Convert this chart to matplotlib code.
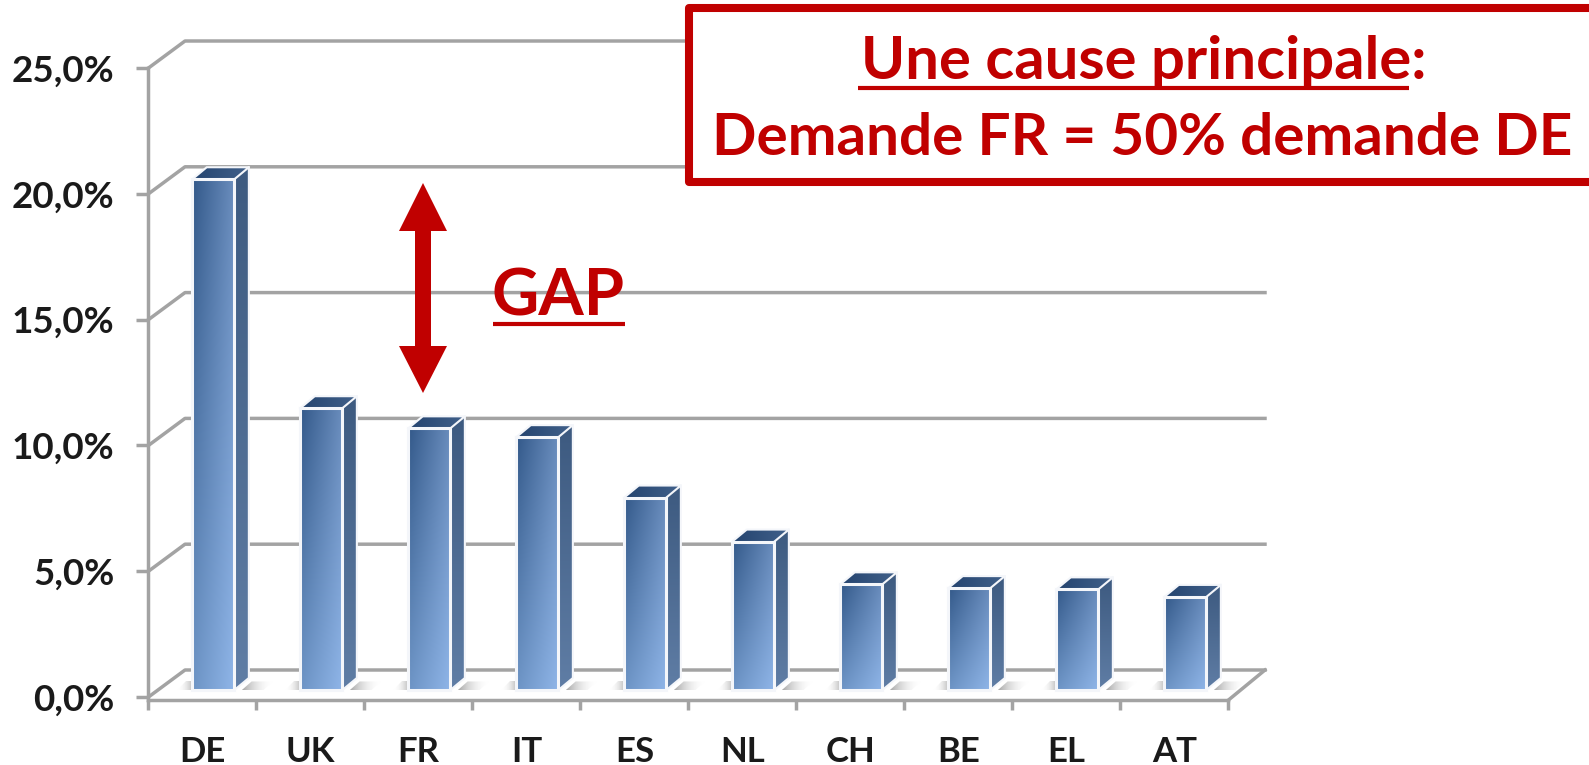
import numpy as np
import matplotlib
matplotlib.use("Agg")
import matplotlib.pyplot as plt
from matplotlib.colors import to_rgba
from matplotlib.patches import Polygon, Rectangle

# Donnees
pays = ["DE", "UK", "FR", "IT", "ES", "NL", "CH", "BE", "EL", "AT"]
parts = [20.3, 11.2, 10.4, 10.05, 7.65, 5.9, 4.2, 4.05, 4.0, 3.7]
graduations = [0, 5, 10, 15, 20, 25]
etiquettes_y = ["0,0%", "5,0%", "10,0%", "15,0%", "20,0%", "25,0%"]

LARG, HAUT = 1589, 765
X0, KX = 148.5, 108.0   # pixel du 0 et pixels par categorie
Y0, KY = 697.0, 25.16   # pixel du 0% et pixels par point de %
ROUGE = "#C00000"
GRIS = "#A3A3A3"
plt.rcParams["font.family"] = ["Lato", "DejaVu Sans"]


def px(x, y):
    # pixel de l'image -> coordonnees de donnees
    return (x - X0) / KX, (Y0 - y) / KY


def degrade(ax, coins, hg, hd, bg, bd, zorder=3):
    # polygone rempli d'un degrade entre les 4 couleurs de coin
    coins = np.array(coins)
    t, s = np.meshgrid(np.linspace(0, 1, 40), np.linspace(0, 1, 40))
    t, s = t[..., None], s[..., None]
    hg, hd, bg, bd = [np.array(to_rgba(c)) for c in (hg, hd, bg, bd)]
    img = (1 - s) * ((1 - t) * hg + t * hd) + s * ((1 - t) * bg + t * bd)
    ext = [coins[:, 0].min(), coins[:, 0].max(), coins[:, 1].min(), coins[:, 1].max()]
    im = ax.imshow(img, extent=ext, origin="upper", aspect="auto",
                   interpolation="bilinear", zorder=zorder)
    poly = Polygon(coins, closed=True, transform=ax.transData)
    im.set_clip_path(poly)


fig = plt.figure(figsize=(LARG / 100, HAUT / 100), dpi=100)
ax = fig.add_axes([0, 0, 1, 1])

# Profondeur du plancher et des barres
prof_x, prof_y = 36.5 / KX, 27.0 / KY
barre_x, barre_l = 0.405, 0.39
barre_bas = 7.0 / KY
cote_x, cote_y = 14.5 / KX, 12.0 / KY

# Quadrillage du fond, avec les retours en biais
for v in graduations:
    ax.plot([0, prof_x, 10 + prof_x], [v, v + prof_y, v + prof_y],
            color=GRIS, lw=2.5, zorder=1, solid_joinstyle="round")
sol = -3.0 / KY
ax.plot([10, 10 + prof_x], [sol, prof_y], color=GRIS, lw=2.5, zorder=1)

# Ombres sur le plancher
for i in range(len(pays)):
    x0 = i + barre_x
    x1 = x0 + barre_l
    degrade(ax, [(x1 + 0.07, barre_bas), (x1 + 0.27, barre_bas), (x1 + 0.36, barre_bas + 0.34), (x1 + 0.16, barre_bas + 0.34)],
            "#A8A8A8", "#FFFFFF00", "#A8A8A8", "#FFFFFF00", zorder=2)
    degrade(ax, [(x0 - 0.14, barre_bas), (x0, barre_bas), (x0, barre_bas + 0.34), (x0 - 0.06, barre_bas + 0.34)],
            "#FFFFFF00", "#BCBCBC", "#FFFFFF00", "#BCBCBC", zorder=2)

# Barres 3D
for i, val in enumerate(parts):
    x0 = i + barre_x
    x1 = x0 + barre_l
    y1 = barre_bas + val
    degrade(ax, [(x1, barre_bas), (x1 + cote_x, barre_bas + cote_y), (x1 + cote_x, y1 + cote_y), (x1, y1)],
            "#3D5A80", "#3D5A80", "#5F7DA5", "#5F7DA5")
    degrade(ax, [(x0, y1), (x1, y1), (x1 + cote_x, y1 + cote_y), (x0 + cote_x, y1 + cote_y)],
            "#24446F", "#41608A", "#24446F", "#41608A")
    degrade(ax, [(x0, barre_bas), (x1, barre_bas), (x1, y1), (x0, y1)],
            "#33598A", "#6A8DBD", "#6C93C4", "#8FB5E8")
    ax.add_patch(Rectangle((x0, barre_bas), barre_l, val, fill=False, ec="#F4F6FA", lw=2.2, zorder=4))
    ax.plot([x1, x1 + cote_x, x1 + cote_x], [barre_bas, barre_bas + cote_y, y1 + cote_y],
            color="#F4F6FA", lw=1.5, zorder=4)
    ax.plot([x0, x0 + cote_x, x1 + cote_x, x1], [y1, y1 + cote_y, y1 + cote_y, y1],
            color="#F4F6FA", lw=1.5, zorder=4)

# Axes
for nom in ["top", "right"]:
    ax.spines[nom].set_visible(False)
ax.spines["left"].set_position(("data", 0))
ax.spines["bottom"].set_position(("data", sol))
ax.spines["left"].set_bounds(sol, 25)
ax.spines["bottom"].set_bounds(0, 10)
for nom in ["left", "bottom"]:
    ax.spines[nom].set_color(GRIS)
    ax.spines[nom].set_linewidth(2.5)
ax.set_yticks(graduations)
ax.set_yticklabels(etiquettes_y, fontsize=26.5, fontweight="bold", color="#1A1A1A")
ax.set_xticks(range(len(pays) + 1))
ax.set_xticklabels([])
ax.set_xticks([i + 0.5 for i in range(len(pays))], minor=True)
ax.set_xticklabels(pays, minor=True, fontsize=25, fontweight="bold", color="#1A1A1A")
ax.tick_params(axis="y", direction="out", length=8.6, width=2.5, color=GRIS, pad=16)
ax.tick_params(axis="x", which="major", direction="out", length=7.2, width=2.5, color=GRIS)
ax.tick_params(axis="x", which="minor", length=0, pad=26)

# Encadre rouge
bx, by = px(689, 182)
bx2, by2 = px(1700, 8)
ax.add_patch(Rectangle((bx, by), bx2 - bx, by2 - by, fc="white", ec=ROUGE, lw=5.8,
                       joinstyle="round", zorder=6))
tx, ty = px(1144, 79)
ax.text(tx, ty, "Une cause principale:", color=ROUGE, fontsize=43, fontweight="bold",
        ha="center", va="baseline", zorder=7)
tx, ty = px(1142, 155)
ax.text(tx, ty, "Demande FR = 50% demande DE", color=ROUGE, fontsize=42, fontweight="bold",
        ha="center", va="baseline", zorder=7)
x_a, y_a = px(858, 88)
x_b, _ = px(1409, 88)
ax.plot([x_a, x_b], [y_a, y_a], color=ROUGE, lw=3, zorder=7, solid_capstyle="butt")

# GAP et double fleche
tx, ty = px(558, 315)
ax.text(tx, ty, "GAP", color=ROUGE, fontsize=47, fontweight="bold",
        ha="center", va="baseline", zorder=7)
x_a, y_a = px(493, 324)
x_b, _ = px(625, 324)
ax.plot([x_a, x_b], [y_a, y_a], color=ROUGE, lw=3, zorder=7, solid_capstyle="butt")
fleche = [(423, 183), (447, 231), (431, 231), (431, 346), (447, 346), (423, 393),
          (399, 346), (415, 346), (415, 231), (399, 231)]
ax.add_patch(Polygon([px(a, b) for a, b in fleche], closed=True, fc=ROUGE, ec="none", zorder=7))

ax.set_xlim(px(0, 0)[0], px(LARG, 0)[0])
ax.set_ylim(px(0, HAUT)[1], px(0, 0)[1])
ax.patch.set_alpha(0)
fig.savefig("out.png", dpi=100, facecolor="white")
